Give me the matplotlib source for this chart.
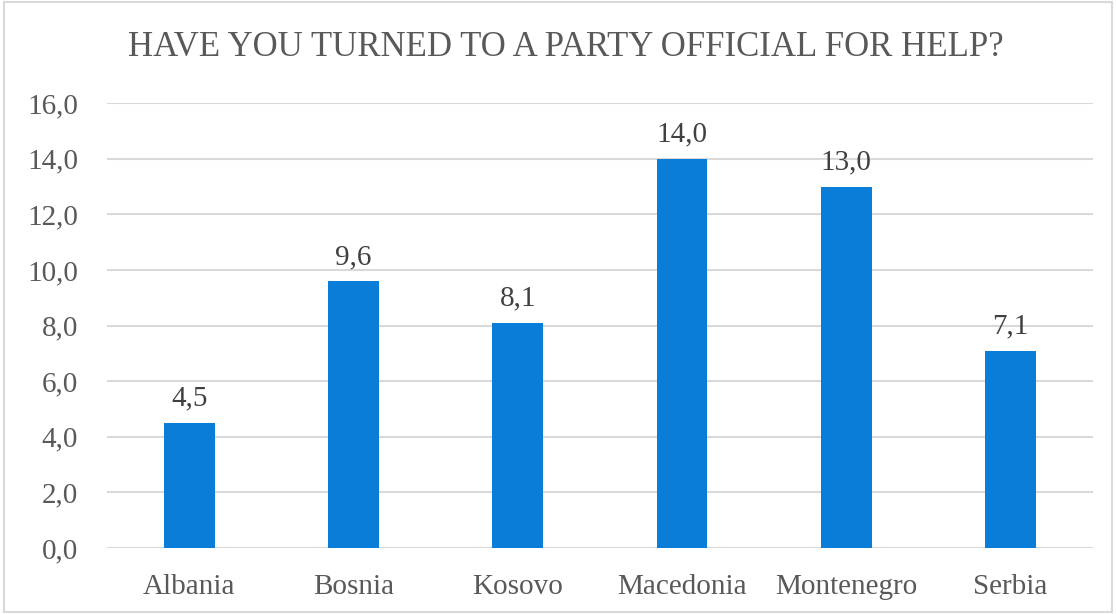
import numpy as np
import matplotlib.pyplot as plt

countries = ['Albania', 'Bosnia', 'Kosovo', 'Macedonia', 'Montenegro', 'Serbia']
values = [4.5, 9.6, 8.1, 14.0, 13.0, 7.1]
yticks = [0, 2, 4, 6, 8, 10, 12, 14, 16]

plt.rcParams['font.family'] = ['Liberation Serif', 'DejaVu Serif']
text_col = '#595959'
grid_col = '#D9D9D9'

fig = plt.figure(figsize=(11.16, 6.14), dpi=100)
ax = fig.add_axes([0.096, 0.1075, 0.883, 0.7245])

x = np.arange(len(countries))
bars = ax.bar(x, values, width=0.31, color='#0A7DD8', zorder=3)

for xi, v in zip(x, values):
    ax.annotate(f'{v:.1f}'.replace('.', ','), (xi, v), xytext=(0, 8),
                textcoords='offset points', ha='center', va='bottom',
                fontsize=21, color='#404040')

ax.set_xlim(-0.5, len(countries) - 0.5)
ax.set_ylim(0, 16)
ax.set_yticks(yticks)
ax.set_yticklabels([f'{t:.1f}'.replace('.', ',') for t in yticks])
ax.set_xticks(x)
ax.set_xticklabels(countries)
ax.tick_params(axis='both', length=0, labelsize=21, colors=text_col)
ax.tick_params(axis='y', pad=21)
ax.tick_params(axis='x', pad=19)
ax.grid(axis='y', color=grid_col, linewidth=1.5, zorder=0)
for s in ax.spines.values():
    s.set_visible(False)

fig.text(0.507, 0.922, 'HAVE YOU TURNED TO A PARTY OFFICIAL FOR HELP?',
         ha='center', va='center', fontsize=25, color=text_col)

fig.patches.append(plt.Rectangle((0.004, 0.004), 0.992, 0.992, transform=fig.transFigure,
                                 fill=False, edgecolor='#D9D9D9', linewidth=1.5))

fig.savefig('out.png', dpi=100)
